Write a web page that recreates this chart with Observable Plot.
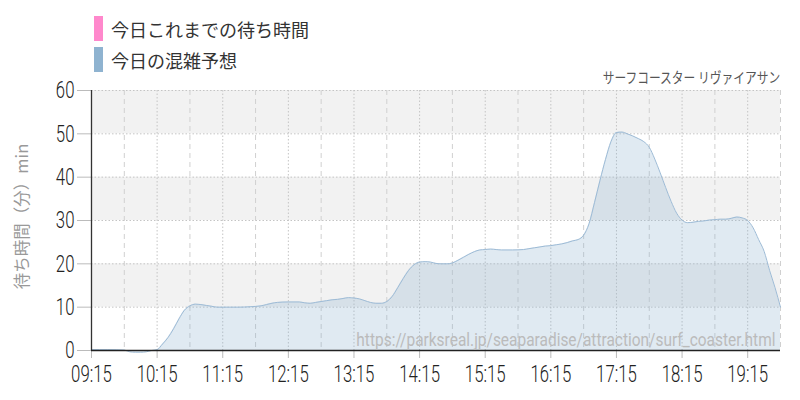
<!DOCTYPE html>
<html>
<head>
<meta charset="utf-8">
<script src="https://cdn.jsdelivr.net/npm/d3@7"></script>
<script src="https://cdn.jsdelivr.net/npm/@observablehq/plot@0.6"></script>
<style>
  html, body { margin: 0; padding: 0; background: #fff; }
  #wrap { position: relative; width: 800px; height: 400px; font-family: "Noto Sans CJK JP", sans-serif; }
  #legend { position: absolute; left: 94px; top: 13px; }
  .li { display: flex; align-items: center; height: 31px; font-size: 18px; color: #333; }
  .sw { width: 9px; height: 25px; margin-right: 8px; }
  #title { position: absolute; right: 20px; top: 66px; font-size: 14.5px; color: #555; transform: scaleX(0.81); transform-origin: right center; white-space: nowrap; }
  #chart { position: absolute; left: 0; top: 0; }
</style>
</head>
<body>
<div id="wrap">
  <div id="chart"></div>
  <div id="legend"></div>
  <div id="title"></div>
</div>
<script>
const legendLabels = ["今日これまでの待ち時間", "今日の混雑予想"];
const legendColors = ["#ff88cc", "#8fb3d0"];
const titleText = "サーフコースター リヴァイアサン";
const yLabel = "待ち時間（分）min";
const sourceText = "https://parksreal.jp/seaparadise/attraction/surf_coaster.html";

const times = ["09:15","09:30","09:45","09:50","09:55","10:00","10:05","10:10","10:15","10:20","10:25","10:30","10:35","10:40","10:45","10:50","10:55","11:00","11:05","11:10","11:20","11:30","11:40","11:50","11:55","12:00","12:05","12:15","12:25","12:30","12:35","12:40","12:45","12:50","12:55","13:00","13:05","13:10","13:15","13:20","13:25","13:30","13:35","13:40","13:45","13:50","13:55","14:00","14:05","14:10","14:15","14:20","14:25","14:30","14:35","14:40","14:45","14:50","14:55","15:00","15:05","15:10","15:15","15:20","15:25","15:30","15:40","15:50","15:55","16:00","16:05","16:10","16:15","16:20","16:25","16:30","16:35","16:40","16:45","16:50","16:55","17:00","17:05","17:10","17:15","17:20","17:25","17:30","17:35","17:40","17:45","17:50","17:55","18:00","18:05","18:10","18:15","18:20","18:25","18:30","18:35","18:40","18:45","18:50","18:55","19:00","19:05","19:10","19:15","19:20","19:25","19:30","19:35","19:40","19:45"];
const forecast = [0.2,0.2,0.1,-0.3,-0.4,-0.4,-0.3,0,0.2,1.5,3.0,5.0,7.3,9.3,10.3,10.7,10.6,10.4,10.2,10.0,10.0,10.0,10.1,10.3,10.6,10.9,11.1,11.2,11.2,11.0,10.9,11.1,11.3,11.5,11.7,11.8,12.0,12.2,12.1,11.9,11.5,11.1,10.9,10.9,11.3,12.5,14.5,16.6,18.5,19.8,20.4,20.5,20.4,20.1,20.0,20.0,20.2,20.8,21.5,22.2,22.8,23.2,23.3,23.4,23.3,23.2,23.2,23.3,23.5,23.7,23.9,24.1,24.2,24.4,24.6,24.9,25.3,25.6,26.6,29.3,34.2,39.3,44.1,48.2,50.3,50.4,50.0,49.5,48.9,48.2,46.9,44.2,41.0,37.6,34.4,31.7,30.1,29.5,29.6,29.8,29.9,30.1,30.2,30.3,30.3,30.5,30.8,30.6,30.0,28.3,25.6,22.9,18.5,14.5,10.0];

const xTickLabels = ["09:15","10:15","11:15","12:15","13:15","14:15","15:15","16:15","17:15","18:15","19:15"];
const halfHourLabels = ["09:45","10:45","11:45","12:45","13:45","14:45","15:45","16:45","17:45","18:45","19:45"];
const xDomainLabels = ["09:15","19:45"];
const yTicks = [0,10,20,30,40,50,60];
const bandStarts = [10,30,50];

const toMin = s => { const [h,m] = s.split(":").map(Number); return h*60+m; };
const fmt = v => String(Math.floor(v/60)).padStart(2,"0") + ":" + String(v%60).padStart(2,"0");

const data = times.map((t,i) => ({x: toMin(t), y: forecast[i]}));
const xTicks = xTickLabels.map(toMin);
const halfTicks = halfHourLabels.map(toMin);
const bands = bandStarts.map(b => ({y1: b, y2: b + 10}));
const xDom = xDomainLabels.map(toMin);

document.getElementById("legend").innerHTML = legendLabels.map((l,i) =>
  `<div class="li"><span class="sw" style="background:${legendColors[i]}"></span>${l}</div>`).join("");
document.getElementById("title").textContent = titleText;

const tickFont = "Roboto, sans-serif";

const chart = Plot.plot({
  width: 800,
  height: 400,
  marginLeft: 91,
  marginRight: 20,
  marginTop: 90,
  marginBottom: 50,
  x: {domain: xDom, label: null},
  y: {domain: [0, 60], label: null},
  style: {background: "transparent", overflow: "visible"},
  marks: [
    Plot.rect(bands, {x1: xDom[0], x2: xDom[1], y1: "y1", y2: "y2", fill: "#f2f2f2"}),
    Plot.ruleY(yTicks.slice(1), {stroke: "#c4c4c4", strokeDasharray: "1.5,2"}),
    Plot.ruleX(xTicks.slice(1), {stroke: "#c4c4c4", strokeDasharray: "1.5,2"}),
    Plot.ruleX(halfTicks, {stroke: "#d0d0d0", strokeDasharray: "5,4"}),
    Plot.areaY(data, {x: "x", y: "y", fill: "rgba(143,179,208,0.28)", curve: "monotone-x"}),
    Plot.line(data, {x: "x", y: "y", stroke: "#9dbbd6", strokeWidth: 1, curve: "monotone-x"}),
    Plot.axisX({ticks: xTicks, tickFormat: fmt, tickSize: 8, tickPadding: 6, stroke: "#bbb", fill: "#222", fontSize: 24, fontFamily: tickFont, fontWeight: 300}),
    Plot.axisY({ticks: yTicks, tickSize: 14, tickPadding: 3, stroke: "#bbb", fill: "#222", fontSize: 24, fontFamily: tickFont, fontWeight: 300}),
    Plot.ruleX([xDom[0]], {stroke: "#333", strokeWidth: 1.3}),
    Plot.ruleY([0], {stroke: "#222", strokeWidth: 1.3}),
    Plot.text([sourceText], {frameAnchor: "bottom-right", dx: -5, dy: -10, lineAnchor: "middle", fill: "#bbb", fontSize: 18, fontFamily: tickFont}),
    Plot.text([yLabel], {frameAnchor: "left", textAnchor: "middle", dx: -69, dy: -4, rotate: -90, fill: "#999", fontSize: 16.5, fontFamily: "'Noto Sans CJK JP', sans-serif"})
  ]
});

// narrow (condensed) rendering of labels: horizontal scale only
function condense(sel, k) {
  chart.querySelectorAll(sel).forEach(t => {
    const tr = t.getAttribute("transform") || "";
    const x = t.getAttribute("x");
    if (x != null && !isNaN(+x)) t.setAttribute("x", +x / k);
    t.setAttribute("transform", tr + ` scale(${k},1)`);
  });
}
condense("g[aria-label='x-axis tick label'] text, g[aria-label='y-axis tick label'] text", 0.7);
condense("g[aria-label='text'] text:not([transform*='rotate'])", 0.86);
document.getElementById("chart").appendChild(chart);
</script>
</body>
</html>
